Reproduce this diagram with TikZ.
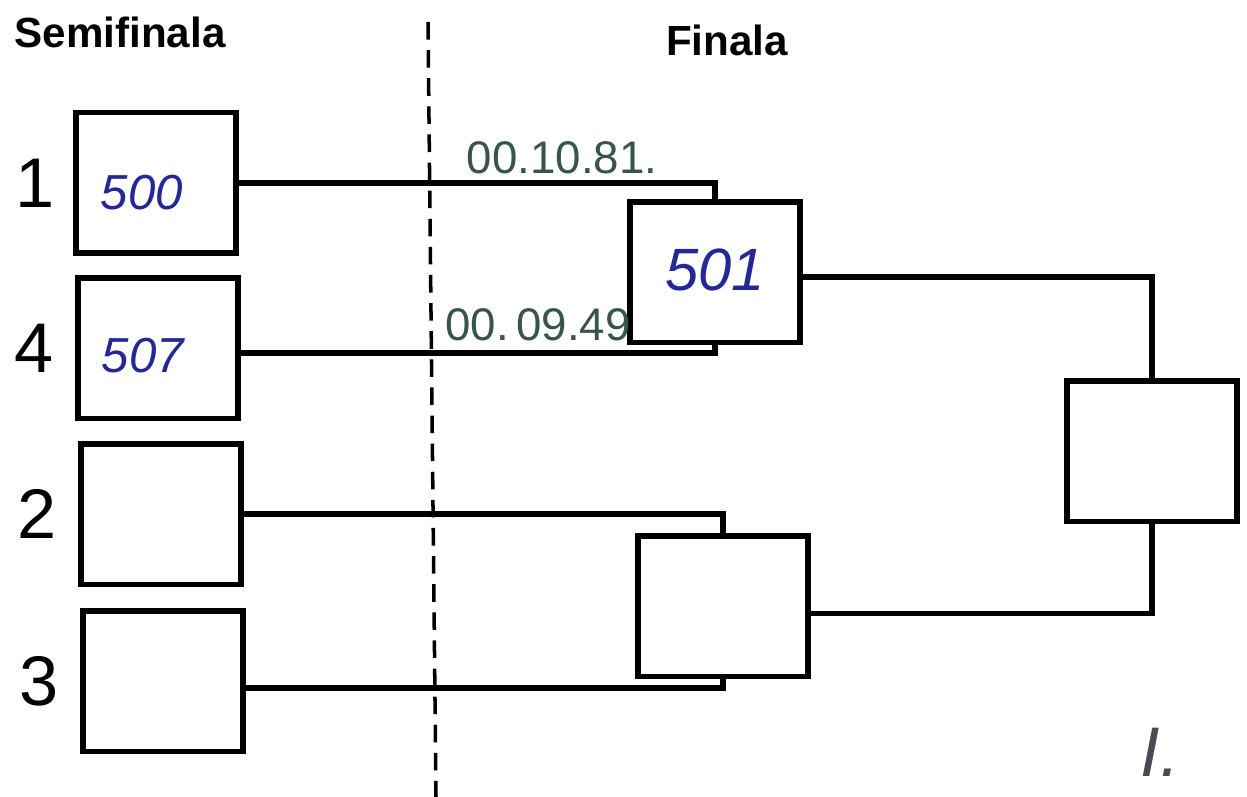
\documentclass[tikz,border=0pt]{standalone}
\usepackage{fontspec}
\setmainfont{Liberation Sans}
\usetikzlibrary{positioning}
\definecolor{inkblue}{RGB}{35,40,150}
\definecolor{inkgreen}{RGB}{55,85,75}
\definecolor{inkgray}{RGB}{70,75,85}

\begin{document}
\begin{tikzpicture}[x=0.02cm,y=-0.02cm,
  box/.style={draw,line width=3.4pt,minimum width=3.2cm,minimum height=2.82cm,inner sep=0pt},
  fbox/.style={box,minimum width=3.4cm},
  link/.style={line width=3.2pt},
  title/.style={font=\fontsize{24}{24}\selectfont\bfseries},
  seed/.style={font=\fontsize{40}{40}\selectfont},
  hand/.style={text=inkblue,font=\fontsize{28}{28}\selectfont\itshape},
  time/.style={text=inkgreen,font=\fontsize{26}{26}\selectfont}]
\useasboundingbox (0,0) rectangle (1247,797);

% Titles
\node[title] (semi) at (120,32) {Semifinala};
\node[title] (fin) at (727,40) {Finala};

% Separator
\coordinate (top) at (428,22);
\coordinate (bot) at (436,797);
\draw[line width=2pt,dash pattern=on 10pt off 6pt] (top) -- (bot);

% Semifinal boxes
\node[box] (s1) at (156,183) {};
\node[box] (s4) at (158,348) {};
\node[box] (s2) at (161,514) {};
\node[box] (s3) at (163,681) {};

% Seeds
\node[seed, left=0.25cm of s1] (n1) {1};
\node[seed, left=0.3cm of s4] (n4) {4};
\node[seed, left=0.3cm of s2] (n2) {2};
\node[seed, left=0.3cm of s3] (n3) {3};

% Final boxes
\node[fbox] (f1) at (715,272) {};
\node[fbox] (f2) at (723,606) {};
\node[fbox] (w) at (1152,451) {};

% Edges
\draw[link] (s1.east) -| (f1.north);
\draw[link] ([yshift=-0.1cm]s4.east) -| (f1.south);
\draw[link] (s2.east) -| (f2.north);
\draw[link] ([yshift=-0.14cm]s3.east) -| (f2.south);
\draw[link] ([yshift=-0.1cm]f1.east) -| (w.north);
\draw[link] ([yshift=-0.15cm]f2.east) -| (w.south);

% Handwriting
\node[hand] (v1) at ([xshift=-0.28cm,yshift=-0.2cm]s1.center) {500};
\node[hand] (v4) at ([xshift=-0.3cm,yshift=-0.15cm]s4.center) {507};
\node[hand, font=\fontsize{34}{34}\selectfont\itshape] (vf) at ([yshift=0.05cm]f1.center) {501};
\node[time] (t1) at (562,158) {00.10.81.};
\node[time] (t4) at (538,325) {00.\,09.49};
\node[text=inkgray, font=\fontsize{40}{40}\selectfont\itshape] (mark) at (1160,752) {I.};
\end{tikzpicture}
\end{document}
